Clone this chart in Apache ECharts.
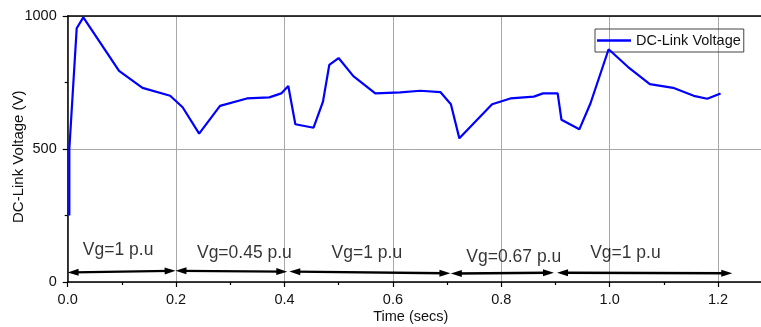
<!DOCTYPE html>
<html>
<head>
<meta charset="utf-8">
<script src="https://cdn.jsdelivr.net/npm/echarts@6/dist/echarts.min.js"></script>
<style>
html,body{margin:0;padding:0;background:#fff;}
#chart{width:761px;height:327px;}
</style>
</head>
<body>
<div id="chart"></div>
<script>
// DC-link voltage trace
var timeSecs = [0.003, 0.003, 0.0166, 0.0288, 0.0947, 0.138, 0.189, 0.212, 0.2425, 0.281, 0.3306, 0.372, 0.394, 0.407, 0.420, 0.4536, 0.471, 0.4826, 0.4998, 0.527, 0.5675, 0.6137, 0.6506, 0.6875, 0.707, 0.7226, 0.743, 0.783, 0.8168, 0.860, 0.877, 0.904, 0.911, 0.944, 0.9646, 0.998, 1.0334, 1.074, 1.117, 1.155, 1.180, 1.2046];
var voltage = [250, 500, 954, 995, 794, 730, 700, 657, 558, 662, 690, 694, 709, 737, 593, 580, 678, 816, 842, 774, 709, 713, 719, 714, 668, 540, 584, 668, 690, 697, 709, 709, 610, 574, 672, 875, 809, 744, 730, 700, 689, 709];

// Grid-voltage interval annotations (double arrows)
var arrowStartX = [0.010, 0.209, 0.419, 0.717, 0.913];
var arrowEndX   = [0.189, 0.395, 0.696, 0.887, 1.216];
var arrowStartY = [36, 42, 39, 32, 35];
var arrowEndY   = [42, 39, 33, 35, 33];
var labelTexts = ['Vg=1 p.u', 'Vg=0.45 p.u', 'Vg=1 p.u', 'Vg=0.67 p.u', 'Vg=1 p.u'];
var labelX = [0.093, 0.326, 0.552, 0.823, 1.029];
var labelY = [120, 109, 109, 95, 108];

var yTicks = [0, 500, 1000];
var xTickStep = 0.2;

var FONT = 'Arial, "Liberation Sans", sans-serif';

var lineData = timeSecs.map(function (t, i) { return [t, voltage[i]]; });
var arrowLines = arrowStartX.map(function (x, i) {
  return [{ coord: [x, arrowStartY[i]] }, { coord: [arrowEndX[i], arrowEndY[i]] }];
});
var labelData = labelX.map(function (x, i) {
  return { name: labelTexts[i], value: [x, labelY[i]] };
});

var chart = echarts.init(document.getElementById('chart'), null, { renderer: 'canvas' });
chart.setOption({
  animation: false,
  backgroundColor: '#ffffff',
  grid: { left: 67.7, top: 16, right: -65.5, bottom: 45, containLabel: false, outerBoundsMode: 'none' },
  legend: {
    data: [{ name: 'DC-Link Voltage', icon: 'rect' }],
    left: 595, top: 29,
    padding: [4, 3, 4, 2],
    itemWidth: 34, itemHeight: 2.5,
    borderColor: '#444', borderWidth: 1,
    backgroundColor: 'transparent',
    textStyle: { fontFamily: FONT, fontSize: 14.5, color: '#111', lineHeight: 14 }
  },
  xAxis: [{
    type: 'value', min: 0, max: 1.4, interval: xTickStep,
    axisLine: { show: true, lineStyle: { color: '#000', width: 1.5 } },
    axisTick: { show: true, inside: false, length: 5, lineStyle: { color: '#000', width: 1.2 } },
    minorTick: { show: true, splitNumber: 2, length: 3, lineStyle: { color: '#000', width: 1.2 } },
    axisLabel: {
      fontFamily: FONT, fontSize: 14.5, color: '#111', margin: 10,
      formatter: function (v) { return v.toFixed(1); }
    },
    splitLine: { show: true, lineStyle: { color: '#a8a8a8', width: 1 } }
  }, {
    type: 'value', position: 'top', min: 0, max: 1.4,
    axisLine: { show: true, onZero: false, lineStyle: { color: '#000', width: 1.5 } },
    axisTick: { show: false }, axisLabel: { show: false }, splitLine: { show: false }
  }],
  yAxis: {
    type: 'value', min: 0, max: 1000, interval: 500,
    axisLine: { show: true, lineStyle: { color: '#000', width: 1.5 } },
    axisTick: { show: true, inside: false, length: 5, lineStyle: { color: '#000', width: 1.2 } },
    minorTick: { show: true, splitNumber: 2, length: 3, lineStyle: { color: '#000', width: 1.2 } },
    axisLabel: { fontFamily: FONT, fontSize: 14.5, color: '#111', margin: 11,
      formatter: function (v) { return String(v); } },
    splitLine: { show: true, lineStyle: { color: '#a8a8a8', width: 1 } }
  },
  graphic: [
    { type: 'text', x: 19, y: 156.7, rotation: Math.PI / 2,
      style: { text: 'DC-Link Voltage (V)', fontFamily: FONT, fontSize: 15, fill: '#111',
               textAlign: 'center', textVerticalAlign: 'middle' } },
    { type: 'text', x: 410.8, y: 316.5,
      style: { text: 'Time (secs)', fontFamily: FONT, fontSize: 14.5, fill: '#111',
               textAlign: 'center', textVerticalAlign: 'middle' } }
  ],
  series: [{
    name: 'DC-Link Voltage',
    type: 'line',
    data: lineData,
    symbol: 'none',
    showSymbol: false,
    z: 5,
    lineStyle: { color: '#0000ff', width: 2.2 },
    itemStyle: { color: '#0000ff' }
  }, {
    name: 'annotations',
    type: 'scatter',
    data: labelData,
    symbolSize: 0,
    silent: true,
    label: {
      show: true, position: 'inside', formatter: '{b}',
      fontFamily: FONT, fontSize: 17.5, color: '#000'
    },
    markLine: {
      silent: true,
      symbol: ['triangle', 'triangle'],
      symbolSize: [7, 11],
      lineStyle: { color: '#000', width: 2.4, type: 'solid' },
      label: { show: false },
      emphasis: { disabled: true },
      data: arrowLines
    }
  }]
});
</script>
</body>
</html>
